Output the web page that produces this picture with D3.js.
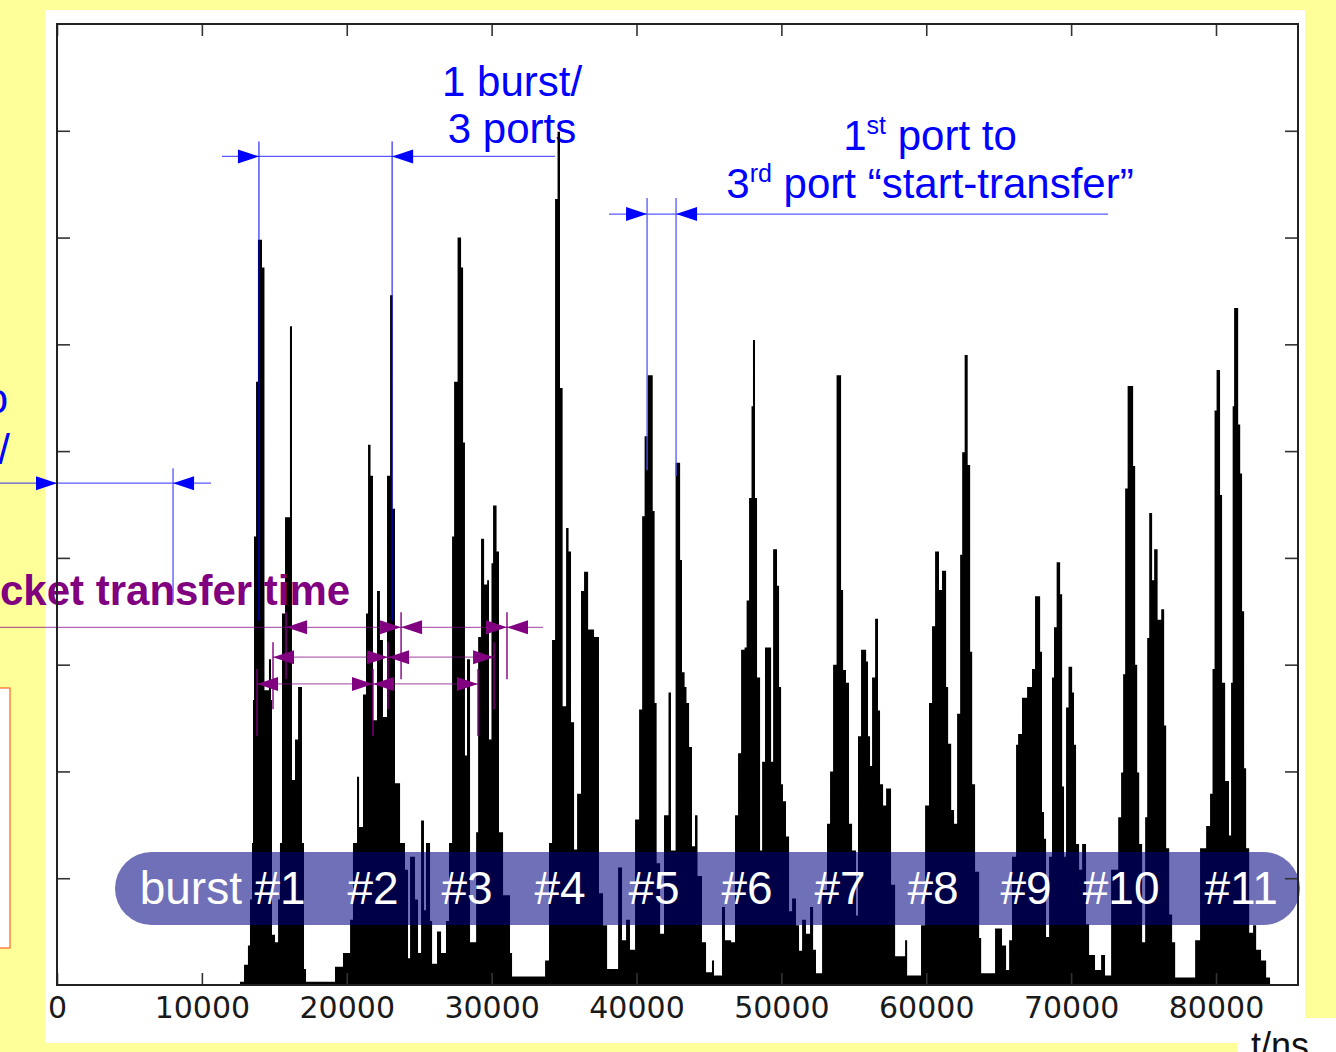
<!DOCTYPE html>
<html>
<head>
<meta charset="utf-8">
<script src="https://cdn.jsdelivr.net/npm/d3@7"></script>
<style>
  body { margin: 0; background: #ffff99; }
  svg { display: block; }
</style>
</head>
<body>
<div id="chart"></div>
<script>
// packet arrival histogram: [t in ns, height in tick units]
const burst1 = [[12630,0.03],[12910,0.19],[13180,0.37],[13320,0.80],[13460,1.33],[13530,2.67],[13600,4.20],[13740,5.65],[13870,6.98],[14150,6.72],[14320,2.76],[14630,3.05],[14770,2.67],[14840,0.47],[15050,0.40],[15260,0.80],[15390,1.33],[15530,3.48],[15740,4.38],[16080,6.17],[16220,1.92],[16430,2.30],[16640,2.79],[16910,1.33],[17050,0.15],[17190,0.03]];
const burst2 = [[19190,0.17],[19740,0.30],[20230,0.61],[20430,1.33],[20710,1.95],[20850,1.48],[21120,2.72],[21330,3.48],[21470,5.06],[21640,4.77],[21810,2.48],[22090,3.69],[22290,3.23],[22500,2.51],[22780,4.77],[22990,6.46],[23160,4.46],[23330,1.89],[23680,1.33],[24020,1.08],[24230,0.25],[24370,1.20],[24710,0.80],[24920,0.30],[25130,1.54],[25330,0.70],[25470,1.33],[25750,0.60],[25890,0.20],[26230,0.50],[26510,0.30]];
const burst3 = [[26850,0.60],[27060,1.33],[27270,4.20],[27410,5.65],[27650,7.00],[27890,6.72],[28030,5.08],[28160,2.15],[28300,3.05],[28510,0.40],[28930,1.43],[29070,3.26],[29270,4.18],[29480,3.75],[29690,3.79],[29820,2.30],[29990,3.95],[30100,4.49],[30340,4.06],[30510,1.43],[30790,0.84],[31270,0.30],[31410,0.08]];
const burst4 = [[33690,0.23],[33960,1.33],[34170,3.23],[34380,7.36],[34550,7.99],[34720,5.59],[34900,2.61],[35140,4.28],[35310,4.06],[35480,2.46],[35690,1.27],[35900,1.79],[36170,3.69],[36380,3.87],[36660,3.33],[37070,3.26],[37410,0.86],[37690,0.56],[37970,0.15]];
const burst5 = [[38730,1.10],[39000,0.42],[39280,0.61],[39550,0.33],[39900,1.55],[40180,2.58],[40390,4.39],[40560,5.14],[40770,5.71],[41120,4.44],[41250,2.64],[41390,1.14],[41630,0.48],[41900,1.59],[42210,2.74],[42380,1.26],[42700,4.89],[43010,3.98],[43140,2.93],[43320,2.79],[43450,2.64],[43630,2.23],[43830,1.30],[44040,1.59],[44210,1.02],[44520,0.40],[44800,0.12],[45210,0.23],[45350,0.09],[45900,0.73],[46110,0.42]];
const burst6 = [[46530,0.40],[46800,1.59],[47010,2.17],[47220,3.14],[47460,3.16],[47600,3.60],[47770,4.56],[47940,5.42],[48040,6.04],[48180,4.56],[48320,2.88],[48530,1.26],[48670,2.09],[48870,3.16],[49290,2.09],[49430,4.08],[49700,3.74],[49840,2.79],[49980,1.88],[50110,1.72],[50320,1.39],[50530,0.69],[50740,0.81],[51010,0.56],[51220,0.32],[51430,0.61],[51700,0.48],[51980,0.73],[52190,0.33],[52390,0.11]];
const burst7 = [[52810,0.89],[53150,1.51],[53360,2.00],[53570,3.00],[53810,5.71],[54120,3.70],[54260,2.95],[54460,2.83],[54670,1.51],[54880,1.26],[55150,0.65],[55290,2.33],[55500,3.14],[55850,3.03],[55980,2.33],[56120,2.05],[56260,2.88],[56470,3.43],[56670,2.57],[56810,1.88],[57020,1.68],[57230,1.84],[57570,0.94],[57850,0.27],[58540,0.42],[58680,0.09]];
const burst8 = [[59640,0.56],[59920,1.68],[60190,2.64],[60400,3.36],[60610,4.06],[60880,3.70],[61090,3.88],[61370,2.79],[61510,2.26],[61720,1.64],[61920,1.51],[62130,2.54],[62340,4.03],[62480,4.99],[62650,5.90],[62860,4.87],[63030,3.12],[63170,1.88],[63370,1.06],[63650,0.44],[63790,0.11]];
const burst9 = [[64750,0.53],[65230,0.37],[65510,0.14],[65720,0.42],[65920,1.20],[66200,2.25],[66340,2.35],[66610,2.69],[66960,2.79],[67300,2.96],[67510,3.64],[67860,3.12],[67990,1.62],[68130,1.37],[68270,0.45],[68480,1.20],[68680,2.88],[68820,3.35],[69000,3.96],[69240,3.66],[69380,1.86],[69510,1.20],[69650,2.60],[69820,2.98],[70070,2.74],[70200,2.25],[70340,1.32],[70550,1.08],[70760,1.32],[71030,0.57],[71240,0.28],[71650,0.14],[72070,0.28],[72340,0.09]];
const burst10 = [[72760,1.08],[73250,1.57],[73450,1.99],[73590,2.91],[73730,4.65],[73900,5.61],[74280,4.86],[74420,3.00],[74560,1.99],[74700,1.32],[74900,0.40],[75110,1.57],[75250,3.25],[75390,4.42],[75590,3.79],[75730,4.08],[75970,3.42],[76220,3.52],[76420,2.43],[76560,1.28],[76770,0.66],[76970,0.40],[77180,0.07]];
const burst11 = [[78560,0.42],[78900,1.28],[79320,1.49],[79590,1.79],[79760,2.96],[79900,5.38],[80040,5.76],[80280,4.59],[80420,2.83],[80630,1.91],[80900,1.40],[81040,2.83],[81150,5.42],[81250,6.34],[81530,5.25],[81670,4.79],[81800,3.50],[81940,2.03],[82080,1.28],[82290,0.49],[82560,0.56],[82770,0.33],[83110,0.23],[83460,0.07],[83730,0]];

const burstLabels = ["#1","#2","#3","#4","#5","#6","#7","#8","#9","#10","#11"];
const burstLabelTimes = [15390,21810,28300,34720,41210,47630,54050,60470,66890,73450,81730];

const xTicks = [0,10000,20000,30000,40000,50000,60000,70000,80000];
const yTicks = [1,2,3,4,5,6,7,8];

// "1 burst / 3 ports" and "start-transfer" markers (ns)
const burstSpanTimes = [13940, 23130];
const startSpanTimes = [40730, 42730];
const leftSpanTimes = [0, 8010];
// packet transfer time rows: three vertical markers each (ns), row height in tick units
const transferRowTimes = [[15810,23750,31060],[14910,22850,30170],[13810,21810,29060]];
const transferRowLevels = [3.35, 3.07, 2.82];

const W = 1336, H = 1052;
const blue = "#0000ff", purple = "#800080";
const sans = "'Liberation Sans', Arial, sans-serif";

const svg = d3.select("#chart").append("svg")
    .attr("width", W)
    .attr("height", H);

svg.append("rect").attr("width", W).attr("height", H).attr("fill", "#ffff99");
svg.append("rect").attr("x", 45).attr("y", 10).attr("width", 1260).attr("height", 1033).attr("fill", "#fff");

const x = d3.scaleLinear().domain([0, 85660]).range([57, 1298]);
const y = d3.scaleLinear().domain([0, 9]).range([985, 24]);

// blue annotation text (sits under the bars)
const t1 = svg.append("text")
    .attr("x", x(31410)).attr("text-anchor", "middle")
    .attr("font-family", sans).attr("font-size", 42).attr("fill", blue);
t1.append("tspan").attr("x", x(31410)).attr("y", y(8.33)).text("1 burst/");
t1.append("tspan").attr("x", x(31410)).attr("y", y(7.89)).text("3 ports");

function supLine(yv, a, sup, b) {
    const t = svg.append("text")
        .attr("x", x(60260)).attr("y", y(yv)).attr("text-anchor", "middle")
        .attr("font-family", sans).attr("font-size", 42).attr("fill", blue);
    t.append("tspan").text(a);
    t.append("tspan").attr("font-size", 25).attr("dy", -16).text(sup);
    t.append("tspan").attr("dy", 16).text(b);
}
supLine(7.82, "1", "st", " port to");
supLine(7.37, "3", "rd", " port \u201cstart-transfer\u201d");

// histogram
const profile = [].concat(burst1, burst2, burst3, burst4, burst5, burst6, burst7, burst8, burst9, burst10, burst11);
const area = d3.area()
    .x(d => x(d[0]))
    .y0(y(0))
    .y1(d => y(d[1]))
    .curve(d3.curveStepAfter);
svg.append("path").datum(profile).attr("d", area).attr("fill", "#000");

function arrowHead(tip, yp, dir, color) {
    svg.append("path")
        .attr("d", `M${tip},${yp}L${tip - dir * 21},${yp - 7}L${tip - dir * 21},${yp + 7}Z`)
        .attr("fill", color);
}
function vline(xp, y1, y2, color, w) {
    svg.append("line").attr("x1", xp).attr("x2", xp).attr("y1", y1).attr("y2", y2)
        .attr("stroke", color).attr("stroke-width", w);
}
function hline(x1, x2, yp, color, op) {
    svg.append("line").attr("x1", x1).attr("x2", x2).attr("y1", yp).attr("y2", yp)
        .attr("stroke", color).attr("stroke-width", 1.2).attr("stroke-opacity", op);
}

// blue dimension arrows
hline(x(11390), x(34380), y(7.76), blue, 0.65);
burstSpanTimes.forEach(t => vline(x(t), y(7.90), y(3.41), blue, 1));
arrowHead(x(burstSpanTimes[0]), y(7.76), 1, blue);
arrowHead(x(burstSpanTimes[1]), y(7.76), -1, blue);

hline(x(38100), x(72550), y(7.22), blue, 0.65);
vline(x(startSpanTimes[0]), y(7.37), y(4.82), "#5555ff", 1.3);
vline(x(startSpanTimes[1]), y(7.37), y(4.77), "#5555ff", 1.3);
arrowHead(x(startSpanTimes[0]), y(7.22), 1, blue);
arrowHead(x(startSpanTimes[1]), y(7.22), -1, blue);

hline(0, x(10630), y(4.70), blue, 0.65);
vline(x(leftSpanTimes[0]), y(4.84), y(3.76), blue, 1.3);
vline(x(leftSpanTimes[1]), y(4.84), y(3.58), "#5555ff", 1.3);
arrowHead(x(leftSpanTimes[0]), y(4.70), 1, blue);
arrowHead(x(leftSpanTimes[1]), y(4.70), -1, blue);

// purple transfer-time rows
transferRowTimes.forEach((ts, i) => {
    const yp = y(transferRowLevels[i]);
    if (i === 0) hline(0, x(33550), yp, purple, 0.6);
    else hline(x(ts[0]), x(ts[2]), yp, purple, 0.6);
    ts.forEach(t => vline(x(t), yp - 15, yp + 52, purple, 1.4));
    arrowHead(x(ts[0]), yp, -1, purple);
    arrowHead(x(ts[1]), yp, 1, purple);
    arrowHead(x(ts[1]), yp, -1, purple);
    arrowHead(x(ts[2]), yp, 1, purple);
    if (i === 0) arrowHead(x(ts[2]), yp, -1, purple);
});

// label runs in from the slide's left edge, its first letters are off the page
svg.append("text")
    .attr("x", 0).attr("y", y(3.56)).attr("text-anchor", "start")
    .attr("font-family", sans).attr("font-size", 42).attr("font-weight", "bold")
    .attr("fill", purple)
    .text("cket transfer time");

// burst label band
svg.append("rect")
    .attr("x", 115).attr("y", 852).attr("width", 1185).attr("height", 73)
    .attr("rx", 36.5).attr("ry", 36.5)
    .attr("fill", "rgb(0,0,128)").attr("fill-opacity", 0.56);

svg.selectAll(".blabel").data(burstLabels).enter().append("text")
    .attr("class", "blabel")
    .attr("x", (d, i) => x(burstLabelTimes[i]))
    .attr("y", 904)
    .attr("text-anchor", "middle")
    .attr("font-family", sans).attr("font-size", 46).attr("fill", "#fff")
    .text(d => d);
svg.append("text")
    .attr("x", x(burstLabelTimes[0]) - 38).attr("y", 904)
    .attr("text-anchor", "end")
    .attr("font-family", sans).attr("font-size", 46).attr("fill", "#fff")
    .text("burst");

// axes
const tickFont = "'DejaVu Sans', sans-serif";
const gx = svg.append("g").attr("transform", "translate(0,985)")
    .call(d3.axisBottom(x).tickValues(xTicks).tickSizeInner(-12).tickSizeOuter(0).tickPadding(12).tickFormat(d3.format("d")));
gx.selectAll("text").attr("font-family", tickFont).attr("font-size", 30).attr("fill", "#1a1a1a");
svg.append("g").attr("transform", "translate(0,24)")
    .call(d3.axisTop(x).tickValues(xTicks).tickSizeInner(-12).tickSizeOuter(0).tickFormat(""));
svg.append("g").attr("transform", "translate(57,0)")
    .call(d3.axisLeft(y).tickValues(yTicks).tickSizeInner(-13).tickSizeOuter(0).tickFormat(""));
svg.append("g").attr("transform", "translate(1298,0)")
    .call(d3.axisRight(y).tickValues(yTicks).tickSizeInner(-13).tickSizeOuter(0).tickFormat(""));
svg.selectAll(".domain").remove();
svg.selectAll(".tick line").attr("stroke", "#333").attr("stroke-width", 1.6);

svg.append("rect")
    .attr("x", 57).attr("y", 24).attr("width", 1298 - 57).attr("height", 985 - 24)
    .attr("fill", "none").attr("stroke", "#222").attr("stroke-width", 2);

// axis unit box
svg.append("rect").attr("x", 1237).attr("y", 1018).attr("width", 130).attr("height", 60)
    .attr("rx", 12).attr("fill", "#fff");
svg.append("text").attr("x", 1251).attr("y", 1058)
    .attr("font-family", sans).attr("font-size", 36).attr("fill", "#111")
    .text("t/ns");

// pieces of neighbouring slide elements cut off at the left edge
svg.append("text").attr("x", 8).attr("y", 413).attr("text-anchor", "end")
    .attr("font-family", sans).attr("font-size", 42).attr("fill", blue).text("to");
svg.append("text").attr("x", 10).attr("y", 464).attr("text-anchor", "end")
    .attr("font-family", sans).attr("font-size", 42).attr("fill", blue).text("y/");
svg.append("rect").attr("x", -10).attr("y", 688).attr("width", 20).attr("height", 260)
    .attr("fill", "#fff").attr("stroke", "#ff4400").attr("stroke-width", 1);
</script>
</body>
</html>
